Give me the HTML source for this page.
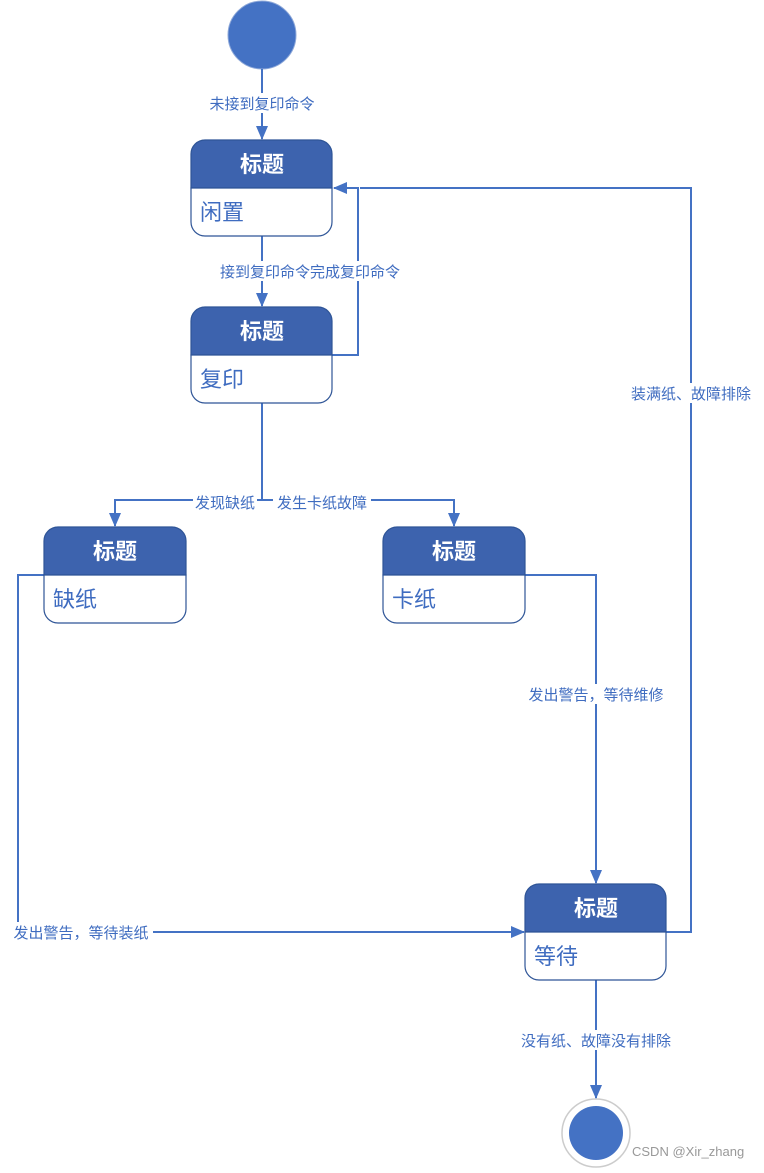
<!DOCTYPE html>
<html><head><meta charset="utf-8"><style>
body{margin:0;background:#fff}
text{font-family:"Liberation Sans","Noto Sans CJK SC",sans-serif}
</style></head><body>
<svg width="764" height="1168" viewBox="0 0 764 1168" xmlns="http://www.w3.org/2000/svg">
<defs>
<marker id="b" viewBox="0 0 14 14" markerWidth="14" markerHeight="14" refX="13" refY="7" orient="auto" markerUnits="userSpaceOnUse"><path d="M0,1 L14,7 L0,13 z" fill="#4472C4"/></marker>
</defs>
<circle cx="262" cy="35" r="34" fill="#4472C4" stroke="#8fa9d9" stroke-width="1"/>
<circle cx="596" cy="1133" r="34" fill="#fff" stroke="#ccc" stroke-width="1.5"/>
<circle cx="596" cy="1133" r="27" fill="#4472C4"/>
<g stroke="#4472C4" stroke-width="2" fill="none">
<path d="M262 69 V139" marker-end="url(#b)"/>
<path d="M262 236 V306" marker-end="url(#b)"/>
<path d="M332 355 H358 V188 H334" marker-end="url(#b)"/>
<path d="M262 403 V500 H115 V526" marker-end="url(#b)"/>
<path d="M262 500 H454 V526" marker-end="url(#b)"/>
<path d="M525 575 H596 V883" marker-end="url(#b)"/>
<path d="M44 575 H18 V932 H524" marker-end="url(#b)"/>
<path d="M666 932 H691 V188 H360"/>
<path d="M596 980 V1098" marker-end="url(#b)"/>
</g>
<g font-size="15" fill="#3f6cc0" text-anchor="middle">
<rect x="206" y="93" width="112" height="20" fill="#fff"/><text x="262" y="109">未接到复印命令</text>
<rect x="214" y="261" width="192" height="20" fill="#fff"/><text x="310" y="277">接到复印命令完成复印命令</text>
<rect x="193" y="492" width="64" height="20" fill="#fff"/><rect x="273" y="492" width="98" height="20" fill="#fff"/><text x="225" y="508">发现缺纸</text><text x="322" y="508">发生卡纸故障</text>
<rect x="627" y="383" width="128" height="20" fill="#fff"/><text x="691" y="399">装满纸、故障排除</text>
<rect x="524" y="684" width="144" height="20" fill="#fff"/><text x="596" y="700">发出警告，等待维修</text>
<rect x="9" y="922" width="144" height="20" fill="#fff"/><text x="81" y="938">发出警告，等待装纸</text>
<rect x="516" y="1030" width="160" height="20" fill="#fff"/><text x="596" y="1046">没有纸、故障没有排除</text>
</g>
<g stroke="#2f5597" stroke-width="1.2">
<path d="M191 188 V154 a14 14 0 0 1 14 -14 H318 a14 14 0 0 1 14 14 V188 z" fill="#3d63ae"/>
<path d="M191 188 V222 a14 14 0 0 0 14 14 H318 a14 14 0 0 0 14 -14 V188 z" fill="#fff"/>
<path d="M191 355 V321 a14 14 0 0 1 14 -14 H318 a14 14 0 0 1 14 14 V355 z" fill="#3d63ae"/>
<path d="M191 355 V389 a14 14 0 0 0 14 14 H318 a14 14 0 0 0 14 -14 V355 z" fill="#fff"/>
<path d="M44 575 V541 a14 14 0 0 1 14 -14 H172 a14 14 0 0 1 14 14 V575 z" fill="#3d63ae"/>
<path d="M44 575 V609 a14 14 0 0 0 14 14 H172 a14 14 0 0 0 14 -14 V575 z" fill="#fff"/>
<path d="M383 575 V541 a14 14 0 0 1 14 -14 H511 a14 14 0 0 1 14 14 V575 z" fill="#3d63ae"/>
<path d="M383 575 V609 a14 14 0 0 0 14 14 H511 a14 14 0 0 0 14 -14 V575 z" fill="#fff"/>
<path d="M525 932 V898 a14 14 0 0 1 14 -14 H652 a14 14 0 0 1 14 14 V932 z" fill="#3d63ae"/>
<path d="M525 932 V966 a14 14 0 0 0 14 14 H652 a14 14 0 0 0 14 -14 V932 z" fill="#fff"/>
</g>
<g font-size="22" font-weight="bold" fill="#fff" text-anchor="middle">
<text x="262" y="172">标题</text><text x="262" y="339">标题</text>
<text x="115" y="559">标题</text><text x="454" y="559">标题</text><text x="596" y="916">标题</text>
</g>
<g font-size="22" fill="#3f6cc0">
<text x="200" y="220">闲置</text><text x="200" y="387">复印</text>
<text x="53" y="607">缺纸</text><text x="392" y="607">卡纸</text><text x="534" y="964">等待</text>
</g>
<text x="632" y="1156" font-size="13" fill="#999">CSDN @Xir_zhang</text>
</svg>
</body></html>
